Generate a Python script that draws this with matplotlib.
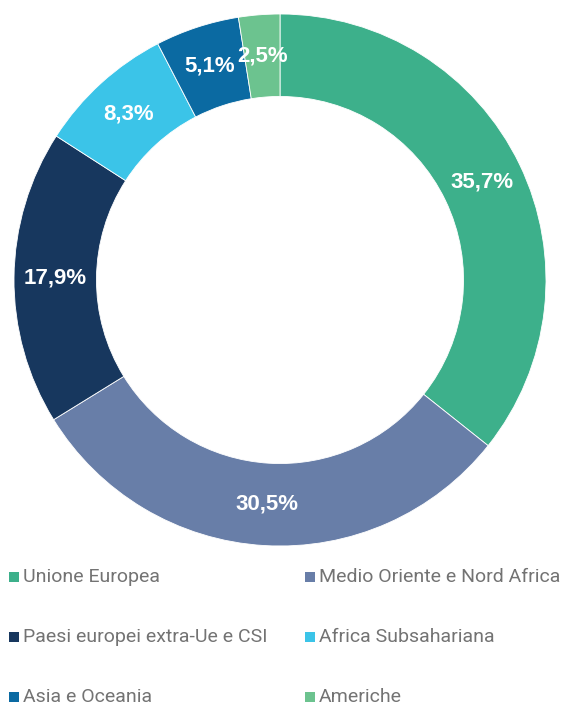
import matplotlib
matplotlib.use("Agg")
import matplotlib.pyplot as plt
from matplotlib.patches import Rectangle

labels = ["Unione Europea", "Medio Oriente e Nord Africa",
          "Paesi europei extra-Ue e CSI", "Africa Subsahariana",
          "Asia e Oceania", "Americhe"]
values = [35.7, 30.5, 17.9, 8.3, 5.1, 2.5]
colors = ["#3db08b", "#687ea8", "#17375e", "#3bc4e8", "#0b6aa2", "#6cc38f"]

W, H = 566, 705
fig = plt.figure(figsize=(W / 100, H / 100), dpi=100)

# donut: centre (280, 280) px, outer radius 266 px
cx, cy, R = 280, 280, 266
ax = fig.add_axes([(cx - R) / W, 1 - (cy + R) / H, 2 * R / W, 2 * R / H])
wedges, texts, autotexts = ax.pie(
    values, colors=colors, startangle=90, counterclock=False,
    radius=1, wedgeprops=dict(width=0.31, edgecolor="white", linewidth=0.6),
    autopct=lambda p: f"{p:.1f}%".replace(".", ","), pctdistance=0.845,
    textprops=dict(color="white", fontsize=16, fontweight="bold",
                   family="Liberation Sans"))
ax.set_xlim(-1, 1)
ax.set_ylim(-1, 1)
ax.set_aspect("equal")
ax.axis("off")

# legend, two columns
col_x = [9, 305]
row_y = [577, 637, 697]
sq = 10
for i, (lab, col) in enumerate(zip(labels, colors)):
    x = col_x[i % 2]
    y = row_y[i // 2]
    fig.add_artist(Rectangle((x / W, 1 - (y + sq / 2) / H), sq / W, sq / H,
                             transform=fig.transFigure, facecolor=col,
                             edgecolor="none"))
    fig.text((x + sq + 4) / W, 1 - y / H, lab, fontsize=14, color="#737373",
             family="Roboto", va="center", ha="left")

fig.savefig("out.png", dpi=100)
